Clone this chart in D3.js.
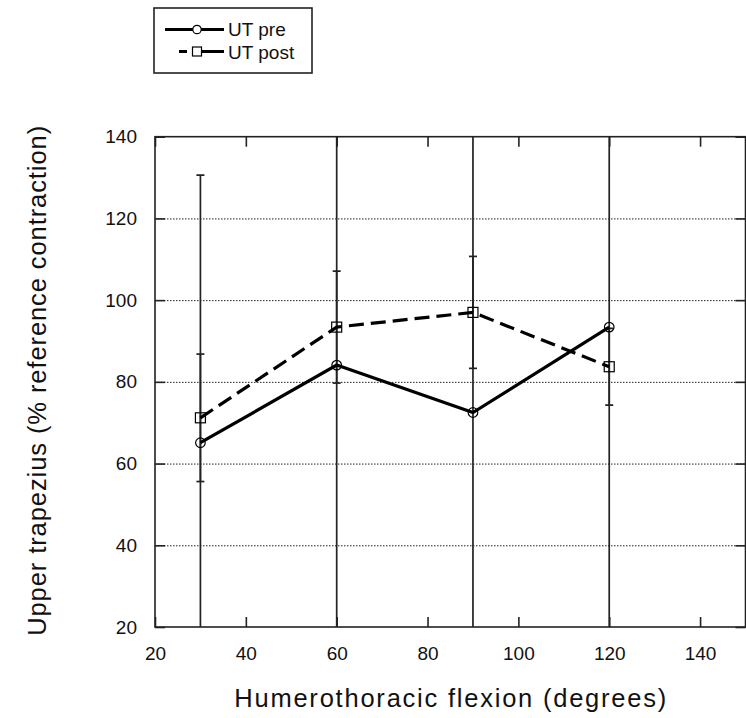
<!DOCTYPE html>
<html>
<head>
<meta charset="utf-8">
<script src="https://cdn.jsdelivr.net/npm/d3@7"></script>
<style>
  html, body { margin: 0; padding: 0; background: #fff; }
  svg { display: block; font-family: "Liberation Sans", Arial, sans-serif; }
</style>
</head>
<body>
<svg id="chart" width="746" height="718"></svg>
<script>
// Humerothoracic flexion angles (degrees)
const angles = [30, 60, 90, 120];
// Upper trapezius activity, % reference contraction: mean and SD
const utPre = [65.1, 84.1, 72.5, 93.4];
const utPreSD = [65.5, 70, 75, 80];
const utPost = [71.2, 93.4, 97.0, 83.7];
const utPostSD = [15.6, 13.7, 13.7, 9.4];

const xTicks = [20, 40, 60, 80, 100, 120, 140];
const yTicks = [20, 40, 60, 80, 100, 120, 140];
const gridTicks = [40, 60, 80, 100, 120];

const xLabel = "Humerothoracic flexion (degrees)";
const yLabel = "Upper trapezius (% reference contraction)";
const seriesNames = ["UT pre", "UT post"];

const margin = { left: 155, top: 136.7, right: 0.5, bottom: 91 };
const W = 746, H = 718;
const iw = W - margin.left - margin.right;
const ih = H - margin.top - margin.bottom;

const svg = d3.select("#chart");
const g = svg.append("g").attr("transform", `translate(${margin.left},${margin.top})`);

const x = d3.scaleLinear().domain([20, 150]).range([0, iw]);
const y = d3.scaleLinear().domain([20, 140]).range([ih, 0]);

// clip region for the plotting area
svg.append("defs").append("clipPath").attr("id", "plotClip")
  .append("rect").attr("x", 0).attr("y", 0).attr("width", iw).attr("height", ih);

// dotted horizontal gridlines
const grid = g.append("g").call(d3.axisLeft(y).tickValues(gridTicks).tickSize(-iw).tickFormat(""));
grid.select(".domain").remove();
grid.selectAll("line").attr("stroke", "#222").attr("stroke-width", 1).attr("stroke-dasharray", "1.5,1.5");

// axes with inward ticks on all four sides
function styleAxis(sel) {
  sel.select(".domain").remove();
  sel.selectAll(".tick line").attr("stroke", "#222").attr("stroke-width", 1.6);
  sel.selectAll(".tick text").attr("fill", "#111").style("font-size", "19px")
    .style("font-family", "'Liberation Sans', Arial, sans-serif");
}
const fmt = d3.format("d");
g.append("g").attr("transform", `translate(0,${ih})`)
  .call(d3.axisBottom(x).tickValues(xTicks).tickSizeInner(-10).tickSizeOuter(0).tickPadding(20).tickFormat(fmt))
  .call(styleAxis);
g.append("g")
  .call(d3.axisTop(x).tickValues(xTicks).tickSizeInner(-10).tickSizeOuter(0).tickFormat(""))
  .call(styleAxis);
g.append("g")
  .call(d3.axisLeft(y).tickValues(yTicks).tickSizeInner(-10).tickSizeOuter(0).tickPadding(18).tickFormat(fmt))
  .call(styleAxis);
g.append("g").attr("transform", `translate(${iw},0)`)
  .call(d3.axisRight(y).tickValues(yTicks).tickSizeInner(-10).tickSizeOuter(0).tickFormat(""))
  .call(styleAxis);

// frame
g.append("rect").attr("x", 0).attr("y", 0).attr("width", iw).attr("height", ih)
  .attr("fill", "none").attr("stroke", "#222").attr("stroke-width", 1.6);

const plot = g.append("g").attr("clip-path", "url(#plotClip)");

// error bars (clipped at the plot boundaries; caps only where the end is in range)
function errorBars(means, sds) {
  const eg = plot.append("g").attr("stroke", "#222").attr("stroke-width", 1.7);
  angles.forEach((a, i) => {
    const lo = means[i] - sds[i], hi = means[i] + sds[i];
    eg.append("line").attr("x1", x(a)).attr("x2", x(a)).attr("y1", y(lo)).attr("y2", y(hi));
    [lo, hi].forEach(v => {
      if (v >= 20 && v <= 140) {
        eg.append("line").attr("x1", x(a) - 4).attr("x2", x(a) + 4).attr("y1", y(v)).attr("y2", y(v));
      }
    });
  });
}
errorBars(utPre, utPreSD);
errorBars(utPost, utPostSD);

const line = d3.line().x(d => x(d[0])).y(d => y(d[1]));

// UT post: dashed line with open squares
plot.append("path").datum(angles.map((a, i) => [a, utPost[i]]))
  .attr("d", line).attr("fill", "none").attr("stroke", "#000")
  .attr("stroke-width", 3.2).attr("stroke-dasharray", "15,7");
plot.selectAll(".sq").data(angles.map((a, i) => [a, utPost[i]])).join("rect")
  .attr("x", d => x(d[0]) - 5).attr("y", d => y(d[1]) - 5)
  .attr("width", 10).attr("height", 10)
  .attr("fill", "none").attr("stroke", "#000").attr("stroke-width", 1.2);

// UT pre: solid line with open circles
plot.append("path").datum(angles.map((a, i) => [a, utPre[i]]))
  .attr("d", line).attr("fill", "none").attr("stroke", "#000").attr("stroke-width", 3.2);
plot.selectAll(".ci").data(angles.map((a, i) => [a, utPre[i]])).join("circle")
  .attr("cx", d => x(d[0])).attr("cy", d => y(d[1])).attr("r", 4.8)
  .attr("fill", "none").attr("stroke", "#000").attr("stroke-width", 1.2);

// axis titles
svg.append("text").attr("x", margin.left + iw / 2).attr("y", 707)
  .attr("text-anchor", "middle").attr("fill", "#111")
  .attr("textLength", 432).attr("lengthAdjust", "spacing")
  .style("font-size", "25.5px").text(xLabel);
svg.append("text")
  .attr("transform", `translate(46,${margin.top + ih / 2 - 1}) rotate(-90)`)
  .attr("text-anchor", "middle").attr("fill", "#111")
  .attr("textLength", 510).attr("lengthAdjust", "spacing")
  .style("font-size", "25.5px").text(yLabel);

// legend
const lg = svg.append("g");
lg.append("rect").attr("x", 154).attr("y", 8).attr("width", 158).attr("height", 65)
  .attr("fill", "#fff").attr("stroke", "#222").attr("stroke-width", 1.6);
lg.append("line").attr("x1", 165).attr("x2", 224).attr("y1", 29.5).attr("y2", 29.5)
  .attr("stroke", "#000").attr("stroke-width", 3.2);
lg.append("circle").attr("cx", 197).attr("cy", 29.5).attr("r", 4.2)
  .attr("fill", "#fff").attr("stroke", "#000").attr("stroke-width", 1.2);
lg.append("line").attr("x1", 179).attr("x2", 224).attr("y1", 51.5).attr("y2", 51.5)
  .attr("stroke", "#000").attr("stroke-width", 3.2).attr("stroke-dasharray", "8,5,100");
lg.append("rect").attr("x", 192.5).attr("y", 47).attr("width", 9).attr("height", 9)
  .attr("fill", "#fff").attr("stroke", "#000").attr("stroke-width", 1.2);
lg.selectAll(".lt").data(seriesNames).join("text")
  .attr("x", 228).attr("y", (d, i) => 36 + i * 22.5)
  .attr("fill", "#111").style("font-size", "19px").text(d => d);
</script>
</body>
</html>
